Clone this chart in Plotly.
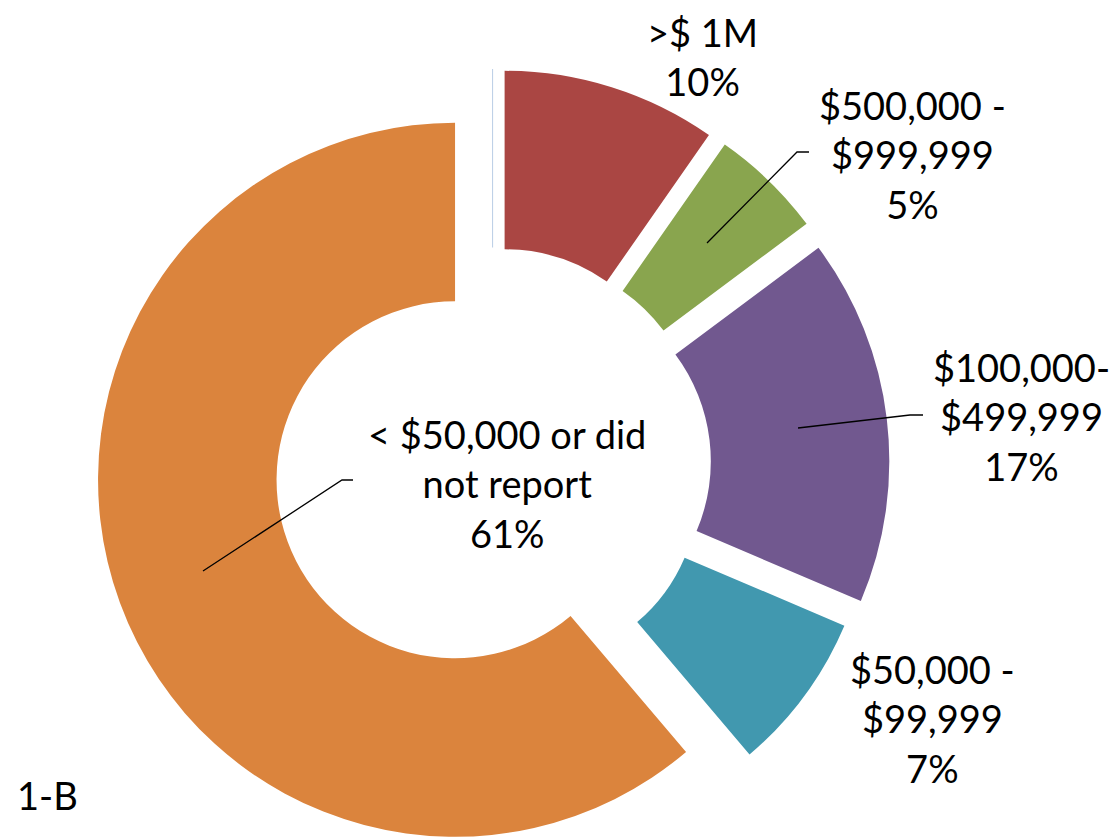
import math
import plotly.graph_objects as go

# ---- data ----
labels = [">$ 1M", "$500,000 - $999,999", "$100,000- $499,999", "$50,000 - $99,999", "< $50,000 or did not report"]
label_lines = [["&gt;$ 1M"], ["$500,000 -", "$999,999"], ["$100,000-", "$499,999"],
               ["$50,000 -", "$99,999"], ["&lt; $50,000 or did", "not report"]]
values = [9.7, 5.1, 16.6, 7.4, 61.2]
colors = ["#AA4643", "#89A54E", "#71588F", "#4198AF", "#DB843D"]
panel_tag = "1-B"

# ---- layout geometry (pixels) ----
W, H = 1112, 837
CX, CY = 492.6, 466.0
R = 357.0
PULL = 40.0
HOLE = 0.5
FONT = "Lato, 'Liberation Sans', sans-serif"
FS = 38

label_pos = [(702, 57), (912, 155), (1021, 417), (932, 718), (507, 483)]
leaders = [None,
           [(809, 152), (797, 152), (707, 243)],
           [(923, 415), (910, 415), (798, 428)],
           None,
           [(353, 480), (342, 480), (203, 571)]]


def px(x):
    return x / W


def py(y):
    return 1 - y / H


total = sum(values)
fig = go.Figure()
cum = 0
for i, v in enumerate(values):
    mid = (cum + v / 2) / total * 2 * math.pi
    cum += v
    dx = PULL * math.sin(mid)
    dy = -PULL * math.cos(mid)
    cx, cy = CX + dx, CY + dy
    r = min(R, H - cy, cy, cx, W - cx)
    cols = ["rgba(0,0,0,0)"] * len(values)
    cols[i] = colors[i]
    fig.add_trace(go.Pie(
        labels=labels, values=values, sort=False, direction="clockwise", rotation=0,
        hole=HOLE, marker=dict(colors=cols, line=dict(width=0)),
        textinfo="none", hoverinfo="skip", showlegend=False,
        domain=dict(x=[px(cx - r), px(cx + r)], y=[py(cy + r), py(cy - r)]),
    ))

annotations = []
for i, v in enumerate(values):
    pct = round(v / total * 100)
    text = "<br>".join(label_lines[i] + [f"{pct}%"])
    x, y = label_pos[i]
    annotations.append(dict(x=px(x), y=py(y), xref="paper", yref="paper", text=text,
                            showarrow=False, xanchor="center", yanchor="middle",
                            font=dict(family=FONT, size=FS, color="#000000")))
annotations.append(dict(x=px(15), y=py(795), xref="paper", yref="paper", text=panel_tag,
                        showarrow=False, xanchor="left", yanchor="middle",
                        font=dict(family=FONT, size=FS, color="#000000")))

shapes = []
for pts in leaders:
    if pts is None:
        continue
    path = "M " + " L ".join(f"{px(x):.5f},{py(y):.5f}" for x, y in pts)
    shapes.append(dict(type="path", path=path, xref="paper", yref="paper",
                       line=dict(color="#000000", width=1.3)))
# zero-width slice outline at 12 o'clock (pulled upward)
shapes.append(dict(type="line", xref="paper", yref="paper",
                   x0=px(CX), x1=px(CX), y0=py(CY - R - PULL), y1=py(CY - R * HOLE - PULL),
                   line=dict(color="#B9CDE5", width=1)))

fig.update_layout(width=W, height=H, margin=dict(l=0, r=0, t=0, b=0),
                  paper_bgcolor="white", plot_bgcolor="white",
                  annotations=annotations, shapes=shapes, showlegend=False)
fig.write_html("out.html", config={"displayModeBar": False},
               post_script="document.body.style.margin='0';document.body.style.overflow='hidden';")
